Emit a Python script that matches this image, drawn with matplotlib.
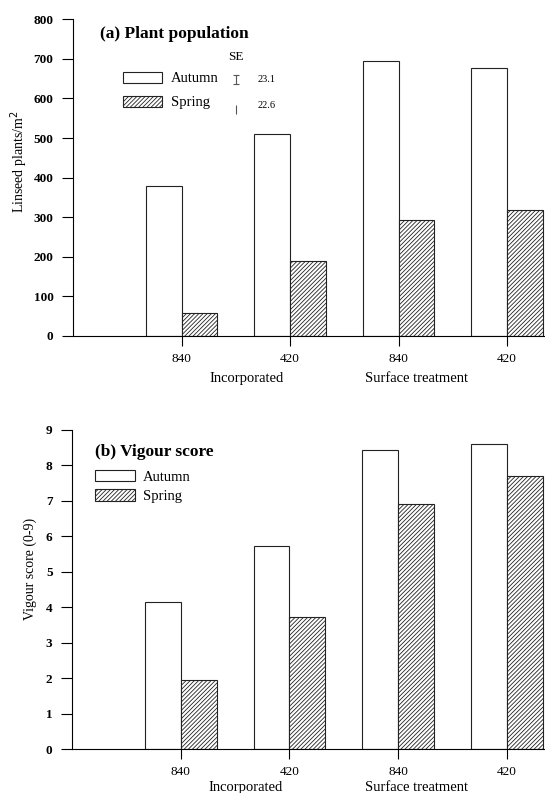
import matplotlib
matplotlib.use("Agg")
import matplotlib.pyplot as plt
import numpy as np

plt.rcParams['font.family'] = ['Liberation Serif', 'DejaVu Serif']

positions = [1, 2, 3, 4]
tick_labels = ["840", "420", "840", "420"]
series = ["Autumn", "Spring"]
pop_autumn = [379, 509, 695, 676]
pop_spring = [57, 189, 292, 318]
vig_autumn = [4.15, 5.74, 8.43, 8.59]
vig_spring = [1.95, 3.73, 6.91, 7.70]
se_values = [23.1, 22.6]
group_labels = ["Incorporated", "Surface treatment"]

W, H = 545, 793
fig = plt.figure(figsize=(W / 100, H / 100), dpi=100)
ax1 = fig.add_axes([73 / W, 1 - 336 / H, 1 - 73 / W, (336 - 19.3) / H])
ax2 = fig.add_axes([72 / W, 1 - 749.3 / H, 1 - 72 / W, (749.3 - 429.8) / H])

bw = 0.33
hatch_kw = dict(color='white', edgecolor='#222222', linewidth=0.8)
plt.rcParams['hatch.color'] = '#555555'
plt.rcParams['hatch.linewidth'] = 0.6


def draw(ax, a_vals, s_vals, ymax, ystep, title, ylabel, tx, ty):
    x = np.array(positions, dtype=float)
    ba = ax.bar(x - bw / 2, a_vals, bw, label=series[0], **hatch_kw)
    bs = ax.bar(x + bw / 2, s_vals, bw, label=series[1], hatch='////////', **hatch_kw)
    ax.set_xlim(0, 4.35)
    ax.set_ylim(0, ymax)
    ax.set_yticks(np.arange(0, ymax + ystep / 2, ystep))
    ax.set_xticks(positions)
    ax.set_xticklabels(tick_labels, fontsize=9.5)
    for lab in ax.get_yticklabels():
        lab.set_fontweight('bold')
        lab.set_fontsize(9.5)
    ax.spines['top'].set_visible(False)
    ax.spines['right'].set_visible(False)
    ax.tick_params(axis='y', direction='out', length=8, width=0.8, pad=6)
    ax.tick_params(axis='x', direction='out', length=7, width=0.8, pad=5)
    ax.set_ylabel(ylabel, fontsize=10)
    ax.text(tx, ty, title, transform=ax.transAxes, fontsize=12.5,
            fontweight='bold', va='center', ha='left')
    return ba, bs


ba1, bs1 = draw(ax1, pop_autumn, pop_spring, 800, 100,
                "(a) Plant population", "Linseed plants/m$^2$", 0.057, 0.955)
ba2, bs2 = draw(ax2, vig_autumn, vig_spring, 9, 1,
                "(b) Vigour score", "Vigour score (0-9)", 0.049, 0.93)

ax1.yaxis.set_label_coords(-0.091, 0.549)
ax2.yaxis.set_label_coords(-0.073, 0.564)

leg_kw = dict(frameon=False, fontsize=10.5, handlelength=2.7, handleheight=0.85,
              handletextpad=0.6, labelspacing=0.7, borderpad=0, borderaxespad=0,
              loc='upper left')
ax1.legend([ba1, bs1], series, bbox_to_anchor=(0.106, 0.835), **leg_kw)
ax2.legend([ba2, bs2], series, bbox_to_anchor=(0.049, 0.875),
           **dict(leg_kw, labelspacing=0.4))

# SE bars
ax1.text(1.5, 706, "SE", ha='center', va='center', fontsize=9.5)
ax1.errorbar([1.5], [647], yerr=[se_values[0] / 2], fmt='none', ecolor='#555555',
             elinewidth=0.8, capsize=2, capthick=0.8)
ax1.errorbar([1.5], [573], yerr=[se_values[1] / 2], fmt='none', ecolor='#555555',
             elinewidth=0.8, capsize=0)
ax1.text(1.70, 647, f"{se_values[0]}", ha='left', va='center', fontsize=7.5)
ax1.text(1.70, 583, f"{se_values[1]}", ha='left', va='center', fontsize=7.5)

# group labels
for ax, yoff in ((ax1, -0.133), (ax2, -0.121)):
    ax.text(1.6, yoff, group_labels[0], transform=ax.get_xaxis_transform(),
            ha='center', va='center', fontsize=10.5)
    ax.text(3.17, yoff, group_labels[1], transform=ax.get_xaxis_transform(),
            ha='center', va='center', fontsize=10.5)

fig.savefig("out.png", dpi=100)
